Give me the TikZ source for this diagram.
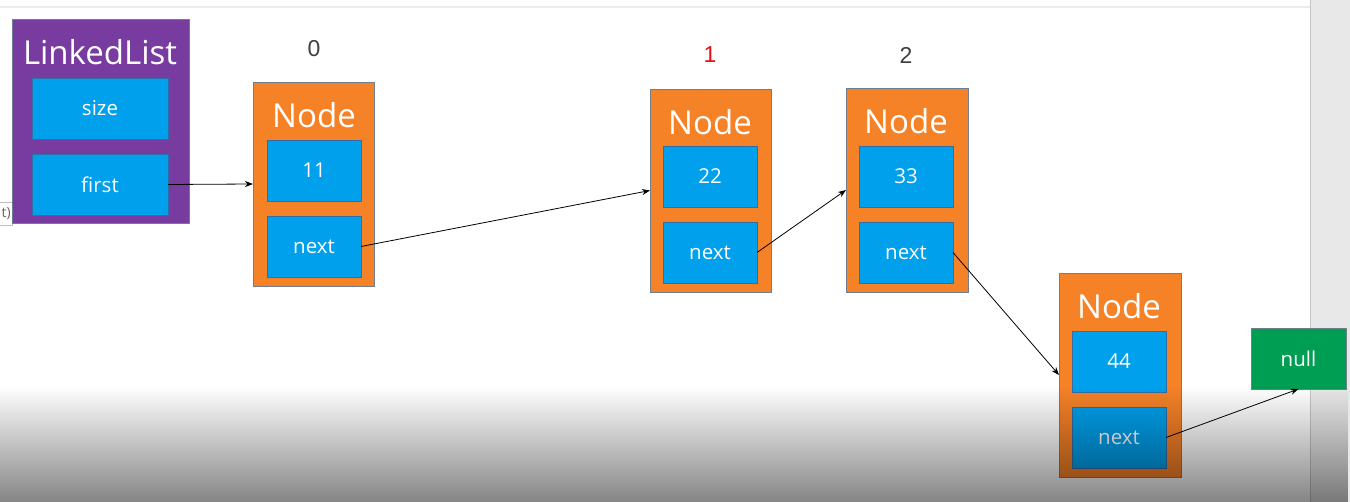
\documentclass[tikz,border=0pt]{standalone}
\usepackage{fontspec}
\setmainfont{Open Sans}
\newfontfamily\labelfont{Liberation Sans}
\usetikzlibrary{arrows.meta,fadings}

\definecolor{llpurple}{HTML}{783CA0}
\definecolor{ndorange}{HTML}{F68228}
\definecolor{fldblue}{HTML}{00A0EC}
\definecolor{nullgreen}{HTML}{009E52}
\definecolor{frame}{HTML}{6F7F90}
\definecolor{fldframe}{HTML}{2F6EA8}
\definecolor{idxgray}{HTML}{404040}
\definecolor{idxred}{HTML}{E01010}

\tikzfading[name=dimdown, top color=transparent!100, middle color=transparent!84, bottom color=transparent!52]

\begin{document}
\begin{tikzpicture}[x=1pt,y=-1pt,
  box/.style={rectangle, inner sep=0pt, outer sep=0pt, line width=0.8pt},
  listbox/.style={box, fill=llpurple, draw=frame, minimum width=177pt, minimum height=204pt},
  nodebox/.style={box, fill=ndorange, draw=frame, minimum width=121pt, minimum height=204pt},
  field/.style={box, fill=fldblue, draw=fldframe, minimum width=94pt, minimum height=61pt,
                text=white, font=\fontsize{20.5}{24}\selectfont},
  widefield/.style={field, minimum width=136pt},
  nullbox/.style={box, fill=nullgreen, draw=frame, minimum width=95pt, minimum height=61pt,
                  text=white, font=\fontsize{20.5}{24}\selectfont},
  heading/.style={inner sep=0pt, text=white, font=\fontsize{33}{38}\selectfont},
  idx/.style={inner sep=0pt, font=\labelfont\fontsize{23}{26}\selectfont, text=idxgray},
  link/.style={line width=0.8pt, -{Stealth[length=8pt,width=6pt]}}]

% canvas
\useasboundingbox (0,0) rectangle (1350,502);
\fill[white] (0,0) rectangle (1350,502);
\draw[gray!15, line width=1.5pt] (0,7) -- (1310,7);
\fill[gray!18] (1310,0) rectangle (1350,502);
\draw[gray!45, line width=0.8pt] (1310,0) -- (1310,502);

% tooltip stub at the left edge
\draw[gray!50, fill=white, line width=0.6pt] (-2,202) rectangle (12,225);
\node[inner sep=0pt, anchor=east, font=\fontsize{14}{16}\selectfont, text=gray!80!black] (tip) at (11,213.5) {t)};

% LinkedList object
\node[listbox] (ll) at (100.5,121) {};
\node[heading] (lltitle) at (100,52) {LinkedList};
\node[widefield] (size) at (100,108.5) {size};
\node[widefield] (first) at (100,184.5) {first};

% node 0
\node[idx] (i0) at (314,49) {0};
\node[nodebox] (n0) at (313.5,184) {};
\node[heading] (t0) at (314,115) {Node};
\node[field] (v0) at (314,170.5) {11};
\node[field] (x0) at (314,246.5) {next};

% node 1
\node[idx, text=idxred] (i1) at (710,55) {1};
\node[nodebox, minimum height=203pt] (n1) at (710.5,190.5) {};
\node[heading] (t1) at (710,122) {Node};
\node[field] (v1) at (710,176.5) {22};
\node[field] (x1) at (710,252.5) {next};

% node 2
\node[idx] (i2) at (906,55) {2};
\node[nodebox, minimum width=122pt] (n2) at (907,190) {};
\node[heading] (t2) at (906,121) {Node};
\node[field] (v2) at (906,176.5) {33};
\node[field] (x2) at (906,252.5) {next};

% node 3
\node[nodebox, minimum width=122pt] (n3) at (1120,375) {};
\node[heading] (t3) at (1119,306) {Node};
\node[field] (v3) at (1119,361.5) {44};
\node[field] (x3) at (1119,437.5) {next};

% terminator
\node[nullbox] (nil) at (1298.5,358.5) {null};

% references
\draw[link] (first.east) -- (n0.west);
\draw[link] (x0.east) -- (n1.west);
\draw[link] (x1.east) -- (n2.west);
\draw[link] (x2.east) -- (n3.west);
\draw[link] (x3.east) -- (nil.south);

% dimming band along the bottom
\fill[black, path fading=dimdown] (0,386) rectangle (1350,502);
\end{tikzpicture}
\end{document}
